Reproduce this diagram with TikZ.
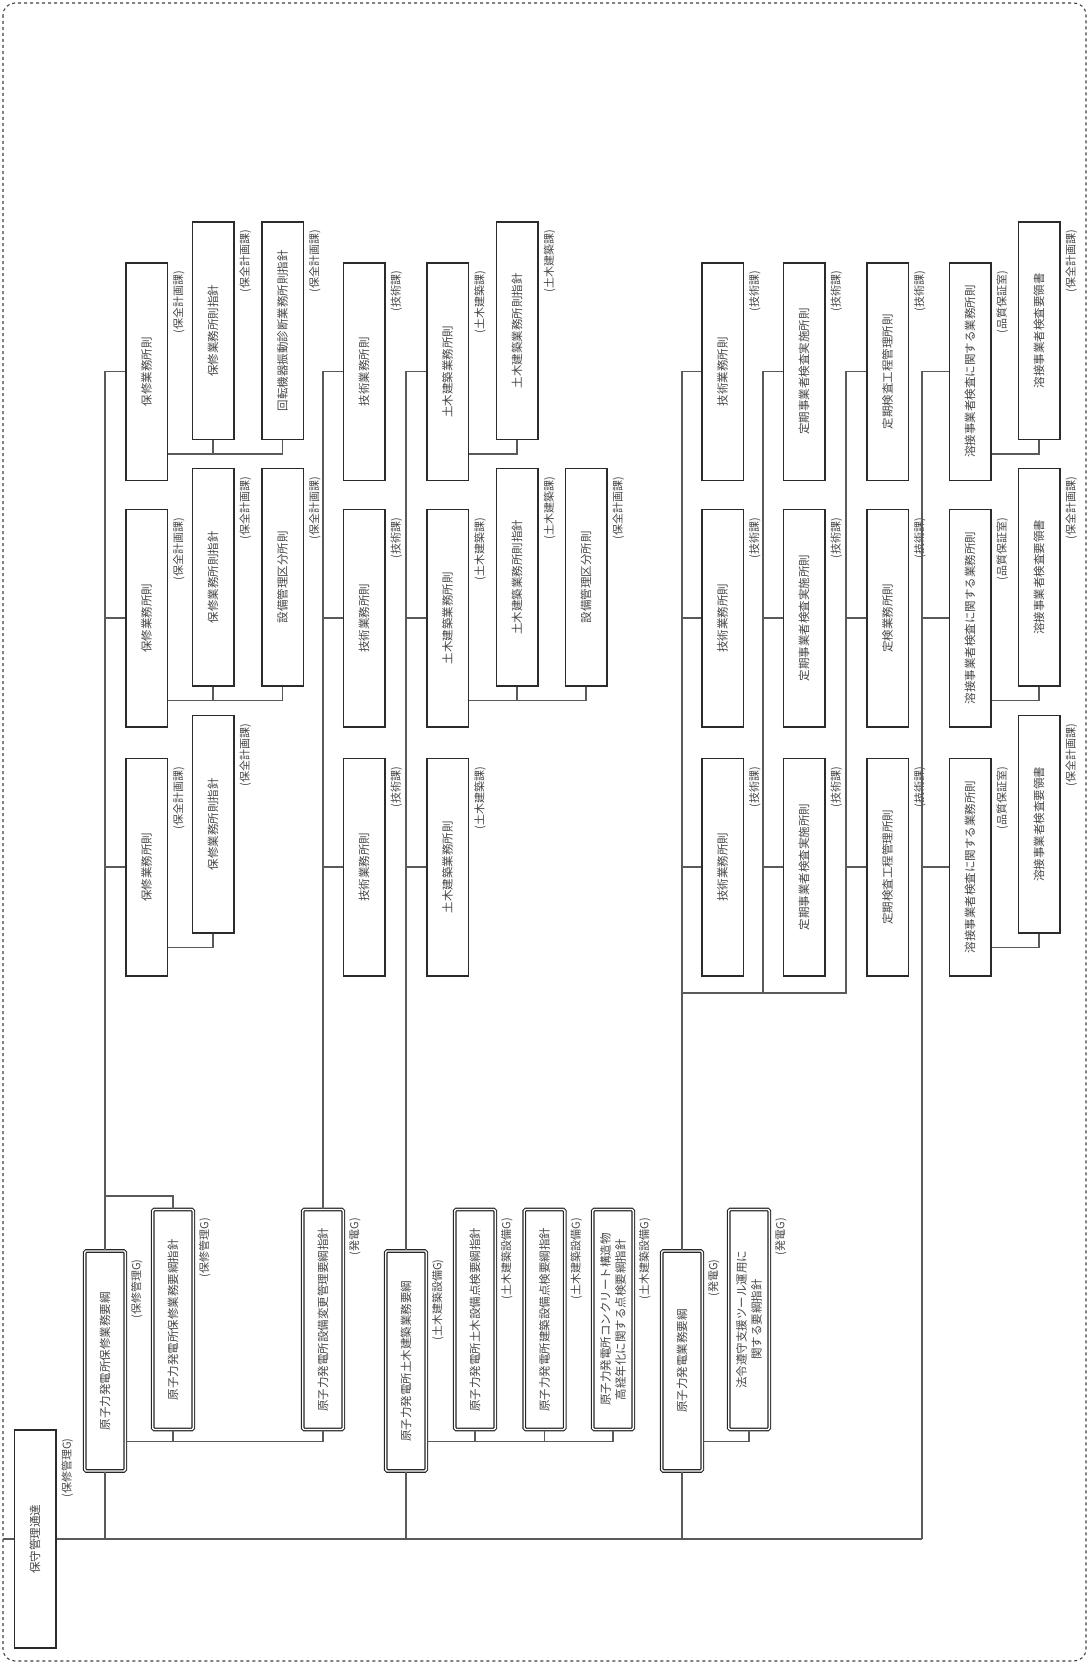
\documentclass[tikz,border=0pt]{standalone}
\usepackage{fontspec}
\setmainfont{Noto Sans CJK JP}
\usetikzlibrary{calc}
\definecolor{orgInk}{HTML}{2B2B2B}
\definecolor{orgText}{HTML}{474747}
\definecolor{orgLine}{HTML}{5A5A5A}
\definecolor{orgFrame}{HTML}{404040}
\tikzset{
  every picture/.style={text=orgText},
  org box/.style={rotate=90, draw=orgInk, line width=1.5pt, fill=white,
    minimum width=217.5pt, minimum height=41.5pt, inner sep=0pt,
    align=center, font=\fontsize{11.5}{15}\selectfont},
  org main/.style={org box, draw=black!85, line width=1.15pt, double=white,
    double distance=1.4pt, minimum width=220pt, minimum height=40.6pt,
    rounded corners=1.5pt},
  org note/.style={rotate=90, anchor=north east, inner sep=0pt,
    font=\fontsize{11}{13}\selectfont},
  org link/.style={draw=orgLine, line width=1.2pt},
  org frame/.style={draw=orgFrame, line width=1.1pt, dashed, rounded corners=12pt}
}
\newcommand\orgnote[2]{\node[org note] (#1-n) at ($(#1.south east)+(5,9)$) {#2};}

\begin{document}
\begin{tikzpicture}[x=1pt,y=-1pt]
  \useasboundingbox (0,0) rectangle (1089,1664);
  \draw[org frame] (3,3) rectangle (1086,1661);

  % root
  \node[org box, minimum width=218pt] (root) at (35,1539) {保守管理通達};
  \orgnote{root}{(保修管理G)}

  % 保修
  \node[org main] (mA) at (105,1361) {原子力発電所保修業務要綱};
  \node[org main] (pA) at (173,1319.5) {原子力発電所保修業務要綱指針};
  \node[org main] (mB) at (323,1319.5) {原子力発電所設備変更管理要綱指針};
  \orgnote{mA}{(保修管理G)}
  \orgnote{pA}{(保修管理G)}
  \orgnote{mB}{(発電G)}
  \node[org box] (a1) at (146.5,371.5) {保修業務所則};
  \node[org box] (a2) at (146.5,618) {保修業務所則};
  \node[org box] (a3) at (146.5,867) {保修業務所則};
  \node[org box] (a1s1) at (213,330.5) {保修業務所則指針};
  \node[org box] (a1s2) at (282.5,330.5) {回転機器振動診断業務所則指針};
  \node[org box] (a2s1) at (213,577) {保修業務所則指針};
  \node[org box] (a2s2) at (282.5,577) {設備管理区分所則};
  \node[org box] (a3s1) at (213,824) {保修業務所則指針};
  \orgnote{a1}{(保全計画課)} \orgnote{a2}{(保全計画課)} \orgnote{a3}{(保全計画課)}
  \orgnote{a1s1}{(保全計画課)} \orgnote{a1s2}{(保全計画課)}
  \orgnote{a2s1}{(保全計画課)} \orgnote{a2s2}{(保全計画課)}
  \orgnote{a3s1}{(保全計画課)}

  % 設備変更
  \node[org box] (b1) at (364,371.5) {技術業務所則};
  \node[org box] (b2) at (364,618) {技術業務所則};
  \node[org box] (b3) at (364,867) {技術業務所則};
  \orgnote{b1}{(技術課)} \orgnote{b2}{(技術課)} \orgnote{b3}{(技術課)}

  % 土木建築
  \node[org main] (mC) at (406,1361) {原子力発電所土木建築業務要綱};
  \node[org main] (cp1) at (475,1319.5) {原子力発電所土木設備点検要綱指針};
  \node[org main] (cp2) at (544.5,1319.5) {原子力発電所建築設備点検要綱指針};
  \node[org main] (cp3) at (613,1319.5) {原子力発電所コンクリート構造物\\高経年化に関する点検要綱指針};
  \orgnote{mC}{(土木建築設備G)}
  \orgnote{cp1}{(土木建築設備G)}
  \orgnote{cp2}{(土木建築設備G)}
  \orgnote{cp3}{(土木建築設備G)}
  \node[org box] (c1) at (447.5,371.5) {土木建築業務所則};
  \node[org box] (c2) at (447.5,618) {土木建築業務所則};
  \node[org box] (c3) at (447.5,867) {土木建築業務所則};
  \node[org box] (c1s1) at (517,330.5) {土木建築業務所則指針};
  \node[org box] (c2s1) at (517,577) {土木建築業務所則指針};
  \node[org box] (c2s2) at (586,577) {設備管理区分所則};
  \orgnote{c1}{(土木建築課)} \orgnote{c2}{(土木建築課)} \orgnote{c3}{(土木建築課)}
  \orgnote{c1s1}{(土木建築課)} \orgnote{c2s1}{(土木建築課)}
  \orgnote{c2s2}{(保全計画課)}

  % 発電
  \node[org main] (mD) at (682,1361) {原子力発電業務要綱};
  \node[org main] (dp) at (749,1319.5) {法令遵守支援ツール運用に\\関する要綱指針};
  \orgnote{mD}{(発電G)}
  \orgnote{dp}{(発電G)}
  \node[org box] (d1) at (722.5,371.5) {技術業務所則};
  \node[org box] (d2) at (722.5,618) {技術業務所則};
  \node[org box] (d3) at (722.5,867) {技術業務所則};
  \node[org box] (q1) at (804,371.5) {定期事業者検査実施所則};
  \node[org box] (q2) at (804,618) {定期事業者検査実施所則};
  \node[org box] (q3) at (804,867) {定期事業者検査実施所則};
  \node[org box] (r1) at (887.5,371.5) {定期検査工程管理所則};
  \node[org box] (r2) at (887.5,618) {定検業務所則};
  \node[org box] (r3) at (887.5,867) {定期検査工程管理所則};
  \orgnote{d1}{(技術課)} \orgnote{d2}{(技術課)} \orgnote{d3}{(技術課)}
  \orgnote{q1}{(技術課)} \orgnote{q2}{(技術課)} \orgnote{q3}{(技術課)}
  \orgnote{r1}{(技術課)} \orgnote{r2}{(技術課)} \orgnote{r3}{(技術課)}

  % 溶接
  \node[org box] (e1) at (970,371.5) {溶接事業者検査に関する業務所則};
  \node[org box] (e2) at (970,618) {溶接事業者検査に関する業務所則};
  \node[org box] (e3) at (970,867) {溶接事業者検査に関する業務所則};
  \node[org box] (e1s) at (1039,330.5) {溶接事業者検査要領書};
  \node[org box] (e2s) at (1039,577) {溶接事業者検査要領書};
  \node[org box] (e3s) at (1039,824) {溶接事業者検査要領書};
  \orgnote{e1}{(品質保証室)} \orgnote{e2}{(品質保証室)} \orgnote{e3}{(品質保証室)}
  \orgnote{e1s}{(保全計画課)} \orgnote{e2s}{(保全計画課)} \orgnote{e3s}{(保全計画課)}

  % connectors
  \coordinate (edgeL) at (3,1539);
  \coordinate (trunkE) at (922,1539);
  \coordinate (busQ) at (763,993);
  \coordinate (busR) at (846,993);
  \draw[org link] (edgeL) -- (root.north);
  \draw[org link] (root.south) -- (trunkE);

  \draw[org link] (mA.west) -- (mA.west |- root.south);
  \draw[org link] (mA.east) -- (mA.east |- a1.north) -- (a1.north);
  \draw[org link] (a2.north) -- (a2.north -| mA.east);
  \draw[org link] (a3.north) -- (a3.north -| mA.east);
  \draw[org link] (pA.east) -- ++(0,-13) -| (mA.east);
  \draw[org link] ($(mA.south west)+(0,-30)$) -| (mB.west);
  \draw[org link] (pA.west) -- ++(0,12);
  \draw[org link] ($(a1.south west)+(0,-27)$) -| (a1s2.west);
  \draw[org link] (a1s1.west) -- ++(0,14);
  \draw[org link] ($(a2.south west)+(0,-27)$) -| (a2s2.west);
  \draw[org link] (a2s1.west) -- ++(0,14);
  \draw[org link] ($(a3.south west)+(0,-29)$) -| (a3s1.west);

  \draw[org link] (mB.east) -- (mB.east |- b1.north) -- (b1.north);
  \draw[org link] (b2.north) -- (b2.north -| mB.east);
  \draw[org link] (b3.north) -- (b3.north -| mB.east);

  \draw[org link] (mC.west) -- (mC.west |- root.south);
  \draw[org link] (mC.east) -- (mC.east |- c1.north) -- (c1.north);
  \draw[org link] (c2.north) -- (c2.north -| mC.east);
  \draw[org link] (c3.north) -- (c3.north -| mC.east);
  \draw[org link] ($(c1.south west)+(0,-27)$) -| (c1s1.west);
  \draw[org link] ($(c2.south west)+(0,-27)$) -| (c2s2.west);
  \draw[org link] (c2s1.west) -- ++(0,14);
  \draw[org link] ($(mC.south west)+(0,-30)$) -| (cp3.west);
  \draw[org link] (cp1.west) -- ++(0,12);
  \draw[org link] (cp2.west) -- ++(0,12);

  \draw[org link] (mD.west) -- (mD.west |- root.south);
  \draw[org link] (mD.east) -- (mD.east |- d1.north) -- (d1.north);
  \draw[org link] (d2.north) -- (d2.north -| mD.east);
  \draw[org link] (d3.north) -- (d3.north -| mD.east);
  \draw[org link] ($(mD.south west)+(0,-30)$) -| (dp.west);
  \draw[org link] (mD.east |- busR) -- (busR) |- (r1.north);
  \draw[org link] (r2.north) -- (r2.north -| busR);
  \draw[org link] (r3.north) -- (r3.north -| busR);
  \draw[org link] (busQ) |- (q1.north);
  \draw[org link] (q2.north) -- (q2.north -| busQ);
  \draw[org link] (q3.north) -- (q3.north -| busQ);

  \draw[org link] (trunkE) |- (e1.north);
  \draw[org link] (e2.north) -- (e2.north -| trunkE);
  \draw[org link] (e3.north) -- (e3.north -| trunkE);
  \draw[org link] ($(e1.south west)+(0,-27)$) -| (e1s.west);
  \draw[org link] ($(e2.south west)+(0,-27)$) -| (e2s.west);
  \draw[org link] ($(e3.south west)+(0,-29)$) -| (e3s.west);
\end{tikzpicture}
\end{document}
